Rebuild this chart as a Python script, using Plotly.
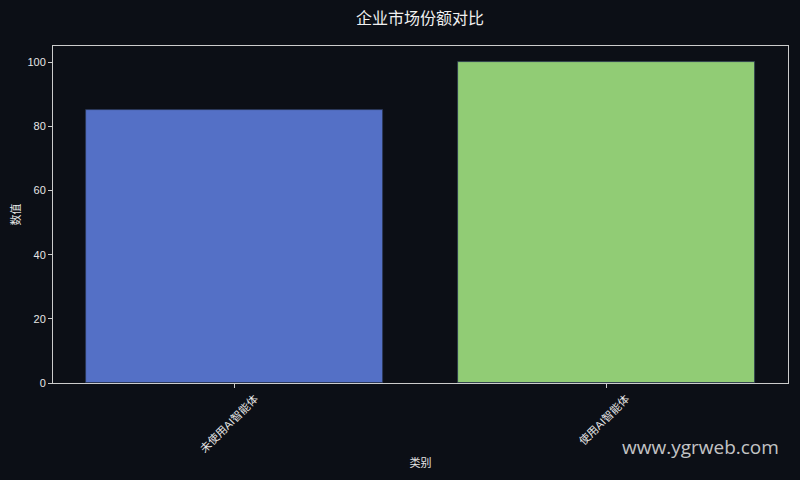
import plotly.graph_objects as go

categories = ['未使用AI智能体', '使用AI智能体']
values = [85, 100]
bar_colors = ['#5470c6', '#91cc75']

bg = '#0c0f16'
font_main = 'Arial, "Liberation Sans", "Noto Sans CJK SC", sans-serif'

fig = go.Figure(go.Bar(
    x=[0, 1],
    y=values,
    width=0.8,
    marker=dict(color=bar_colors, line=dict(color='#2a3550', width=0.8)),
))

fig.update_layout(
    width=800, height=480,
    paper_bgcolor=bg, plot_bgcolor=bg,
    margin=dict(l=53, r=12, t=46, b=97),
    font=dict(family=font_main, size=11, color='#e6e6e6'),
    showlegend=False,
    title=dict(text='企业市场份额对比', x=0.525, xanchor='center', y=0.962, yanchor='middle',
               font=dict(family='"Noto Sans CJK SC", sans-serif', size=16, color='#f0f0f0')),
    bargap=0,
)

fig.update_xaxes(
    range=[-0.49, 1.49], automargin=False,
    tickvals=[0, 1], ticktext=categories, tickangle=-45,
    ticklabelshift=20,
    ticks='outside', ticklen=4, tickcolor='#cccccc',
    showgrid=False, zeroline=False,
    showline=True, linecolor='#cccccc', linewidth=1, mirror=True,
    title=dict(text='类别', font=dict(size=11), standoff=5),
)
fig.update_yaxes(
    range=[0, 105.1], automargin=False,
    tickvals=[0, 20, 40, 60, 80, 100],
    ticks='outside', ticklen=4, tickcolor='#cccccc',
    showgrid=False, zeroline=False,
    showline=True, linecolor='#cccccc', linewidth=1, mirror=True,
    title=dict(text='数值', font=dict(size=11), standoff=4),
)

fig.add_annotation(
    text='www.ygrweb.com', xref='paper', yref='paper',
    x=1.0, y=-0.19, xanchor='right', yanchor='middle', xshift=-7, showarrow=False,
    font=dict(family='"Open Sans", "Noto Sans", sans-serif', size=19, color='rgba(230,230,230,0.85)'),
)

fig.write_html('out.html', config={'displayModeBar': False},
               post_script="document.body.style.margin='0';")
